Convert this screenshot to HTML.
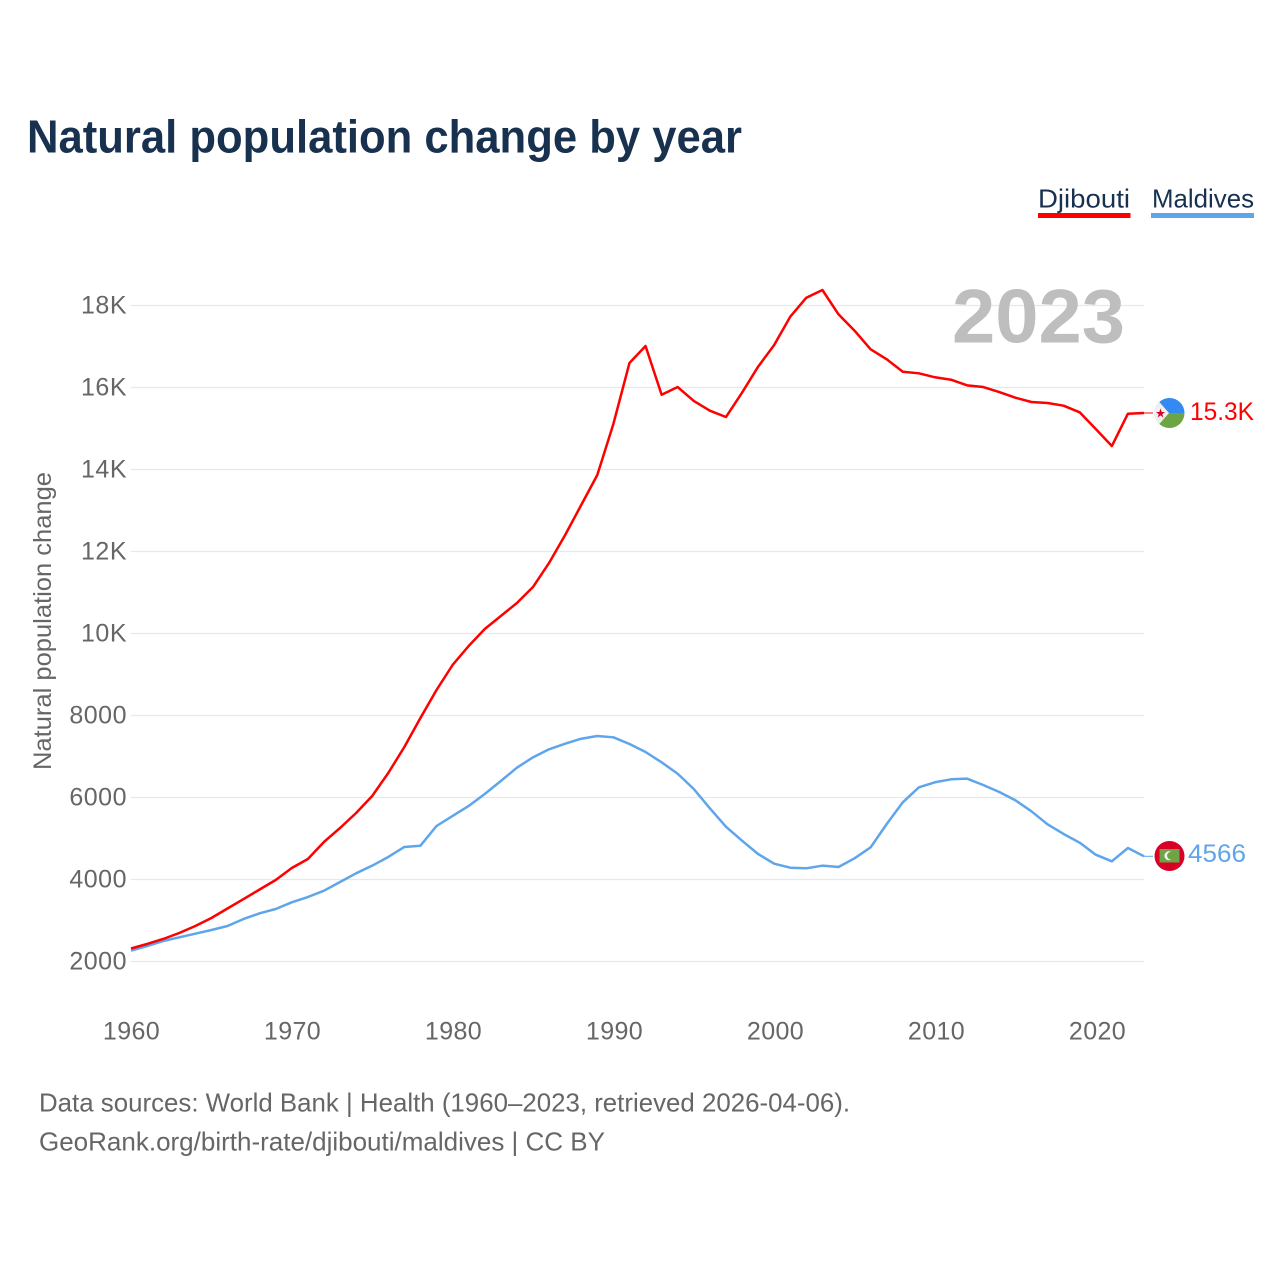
<!DOCTYPE html>
<html lang="en">
<head>
<meta charset="utf-8">
<title>Natural population change by year</title>
<style>
html,body{margin:0;padding:0;background:#fff;}
svg{display:block;}
text{font-family:"Liberation Sans",sans-serif;}
</style>
</head>
<body>
<svg id="chart" xmlns="http://www.w3.org/2000/svg" width="1280" height="1280" viewBox="0 0 1280 1280">
  <rect x="0" y="0" width="1280" height="1280" fill="#ffffff"/>
  <text x="27" y="152.5" font-size="46" font-weight="700" fill="#17314f" textLength="715" lengthAdjust="spacingAndGlyphs">Natural population change by year</text>

  <g>
    <text x="1038" y="207.5" font-size="26" fill="#17314f" textLength="92" lengthAdjust="spacingAndGlyphs">Djibouti</text>
    <rect x="1038" y="213" width="92.5" height="5" fill="#ff0000"/>
  </g>
  <g>
    <text x="1152" y="207.5" font-size="26" fill="#17314f" textLength="102" lengthAdjust="spacingAndGlyphs">Maldives</text>
    <rect x="1151" y="213" width="103" height="5" fill="#5fa5ec"/>
  </g>

  <g id="grid"></g>
  <g id="yticks"></g>
  <g id="xticks"></g>

  <text transform="translate(51 621) rotate(-90)" text-anchor="middle" font-size="25" fill="#666666" textLength="298" lengthAdjust="spacingAndGlyphs">Natural population change</text>

  <text x="952" y="342.5" font-size="76" font-weight="700" fill="#bebebe" textLength="173" lengthAdjust="spacingAndGlyphs">2023</text>

  <g id="series"></g>

  <g>
    <clipPath id="clip-dj"><circle cx="1169.5" cy="413" r="15"/></clipPath>
    <g clip-path="url(#clip-dj)">
      <rect x="1154" y="398" width="31" height="15" fill="#338af3"/>
      <rect x="1154" y="413" width="31" height="16" fill="#6da544"/>
      <polygon points="1154,396 1169,413 1154,430" fill="#f0f0f0"/>
    </g>
    <polygon points="1160.5,408.5 1161.7,412 1165,412 1162.3,414.1 1163.3,417.5 1160.5,415.4 1157.7,417.5 1158.7,414.1 1156,412 1159.3,412" fill="#d80027"/>
  </g>
  <g>
    <circle cx="1169.5" cy="856" r="15" fill="#d80027"/>
    <rect x="1159.5" y="849" width="20" height="13.5" fill="#6da544"/>
    <circle cx="1169" cy="855.7" r="4.6" fill="#f0f0f0"/>
    <circle cx="1171" cy="855.7" r="3.9" fill="#6da544"/>
  </g>

  <text x="1190" y="420" font-size="25" fill="#ff0000" textLength="64" lengthAdjust="spacingAndGlyphs">15.3K</text>
  <text x="1188" y="862" font-size="25" fill="#5fa5ec" textLength="58" lengthAdjust="spacingAndGlyphs">4566</text>

  <text x="39" y="1111.5" font-size="26" fill="#666666" textLength="811" lengthAdjust="spacingAndGlyphs">Data sources: World Bank | Health (1960–2023, retrieved 2026-04-06).</text>
  <text x="39" y="1150.5" font-size="26" fill="#666666" textLength="566" lengthAdjust="spacingAndGlyphs">GeoRank.org/birth-rate/djibouti/maldives | CC BY</text>
</svg>
<script>
const startYear = 1960;
const yTickValues = [2000, 4000, 6000, 8000, 10000, 12000, 14000, 16000, 18000];
const yTickLabels = ["2000", "4000", "6000", "8000", "10K", "12K", "14K", "16K", "18K"];
const xTickYears = [1960, 1970, 1980, 1990, 2000, 2010, 2020];
const djiboutiValues = [2317,2427,2549,2695,2866,3061,3293,3524,3756,3988,4280,4500,4915,5256,5622,6037,6598,7232,7939,8622,9232,9695,10110,10427,10744,11134,11720,12402,13134,13866,15110,16597,17012,15824,16012,15671,15434,15280,15873,16507,17036,17727,18190,18378,17785,17385,16932,16688,16385,16346,16249,16190,16053,16012,15890,15751,15646,15622,15556,15395,14988,14573,15361,15378];
const maldivesValues = [2263,2378,2500,2590,2678,2768,2866,3037,3176,3280,3444,3573,3727,3939,4151,4337,4549,4793,4824,5305,5549,5793,6085,6402,6727,6980,7176,7312,7434,7500,7468,7305,7110,6858,6580,6207,5737,5288,4946,4622,4385,4288,4273,4337,4305,4517,4785,5354,5883,6249,6371,6444,6459,6305,6134,5932,5663,5346,5110,4898,4605,4444,4768,4566];

const SVG_NS = "http://www.w3.org/2000/svg";
function xScale(year) { return 131 + (year - 1960) * (1144 - 131) / 63; }
function yScale(value) { return 961.5 - (value - 2000) * 0.041; }
function xLabelPos(year) { return 131.5 + (year - 1960) * 16.1; }
function make(tag, attrs, parent) {
  const el = document.createElementNS(SVG_NS, tag);
  Object.keys(attrs).forEach(function (k) { el.setAttribute(k, attrs[k]); });
  parent.appendChild(el);
  return el;
}

const grid = document.getElementById("grid");
const yticks = document.getElementById("yticks");
const xticks = document.getElementById("xticks");
const series = document.getElementById("series");

yTickValues.forEach(function (v, i) {
  const line = make("line", { x1: 131, x2: 1144, y1: yScale(v), y2: yScale(v), stroke: "#e8e8e8", "stroke-width": 1.2 }, grid);
  
  
  const label = make("text", { x: 127, y: yScale(v) + 8, "text-anchor": "end", "font-size": 25, fill: "#666666", "letter-spacing": 0.5 }, yticks);
  
  
  label.textContent = yTickLabels[i];
});

xTickYears.forEach(function (yr) {
  const label = make("text", { x: xLabelPos(yr), y: 1039.5, "text-anchor": "middle", "font-size": 25, fill: "#666666", "letter-spacing": 0.4 }, xticks);
  
  
  label.textContent = String(yr);
});

function pathFor(values) {
  return values.map(function (v, i) {
    return (i ? "L" : "M") + xScale(startYear + i).toFixed(2) + " " + yScale(v).toFixed(2);
  }).join(" ");
}
function lastPoint(values) {
  return { x: xScale(startYear + values.length - 1), y: yScale(values[values.length - 1]) };
}

const redEnd = lastPoint(djiboutiValues);
const redLeader = make("line", { x1: redEnd.x, x2: 1153, y1: redEnd.y, y2: redEnd.y, stroke: "#ff0000", "stroke-width": 1 }, series);



const blueEnd = lastPoint(maldivesValues);
const blueLeader = make("line", { x1: blueEnd.x, x2: 1153, y1: blueEnd.y, y2: blueEnd.y, stroke: "#5fa5ec", "stroke-width": 1 }, series);



const blueLine = make("path", { d: pathFor(maldivesValues), fill: "none", stroke: "#5fa5ec", "stroke-width": 2.5, "stroke-linejoin": "round" }, series);



const redLine = make("path", { d: pathFor(djiboutiValues), fill: "none", stroke: "#ff0000", "stroke-width": 2.5, "stroke-linejoin": "round" }, series);


</script>
</body>
</html>
